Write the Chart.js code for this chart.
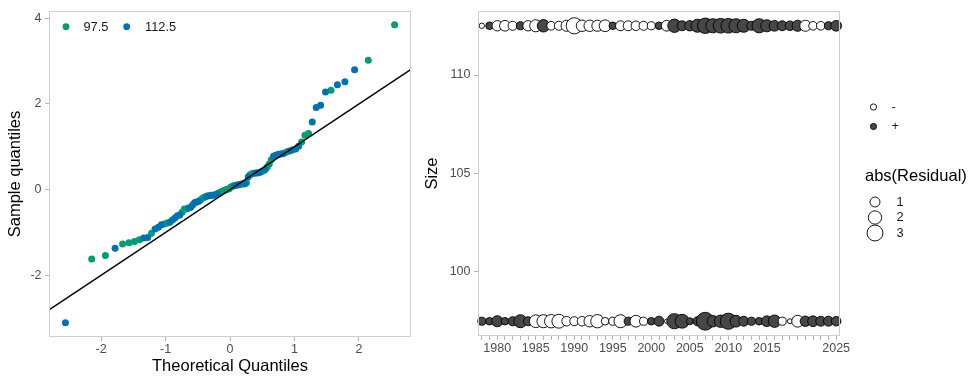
<!DOCTYPE html>
<html><head><meta charset="utf-8">
<script src="https://cdn.jsdelivr.net/npm/chart.js@4.4.1/dist/chart.umd.min.js"></script>
<style>
html,body{margin:0;padding:0;background:#fff;}
#wrap{position:relative;width:970px;height:379px;overflow:hidden;background:#fff;}
#qq{position:absolute;left:0;top:0;}
#bub{position:absolute;left:415px;top:0;}
</style></head><body>
<div id="wrap"><canvas id="qq" width="425" height="379"></canvas><canvas id="bub" width="555" height="379"></canvas></div>
<script>
// ---------- Data: QQ plot (sorted sample quantiles) ----------
const qqTheoretical = [-2.553,-2.145,-1.933,-1.783,-1.666,-1.567,-1.482,-1.406,-1.338,-1.276,-1.218,-1.163,-1.111,-1.064,-1.018,-0.974,-0.933,-0.893,-0.854,-0.816,-0.779,-0.743,-0.708,-0.675,-0.641,-0.609,-0.577,-0.546,-0.516,-0.485,-0.456,-0.426,-0.397,-0.369,-0.340,-0.312,-0.284,-0.256,-0.229,-0.201,-0.174,-0.147,-0.120,-0.093,-0.067,-0.040,-0.013,
  0.013,0.040,0.067,0.093,0.120,0.147,0.174,0.201,0.229,0.256,0.284,0.312,0.340,0.369,0.397,0.426,0.456,0.485,0.516,0.546,0.577,0.609,0.641,0.675,0.708,0.743,0.779,0.816,0.854,0.893,0.933,0.974,1.018,1.064,1.111,1.163,1.218,1.276,1.338,1.406,1.482,1.567,1.666,1.783,1.933,2.145,2.553];
const qqSample = [-3.11,-1.62,-1.54,-1.37,-1.27,-1.24,-1.21,-1.17,-1.13,-1.12,-1.02,-0.92,-0.88,-0.82,-0.80,-0.78,-0.76,-0.71,-0.66,-0.61,-0.59,-0.53,-0.45,-0.45,-0.43,-0.41,-0.35,-0.30,-0.29,-0.27,-0.24,-0.20,-0.18,-0.16,-0.14,-0.14,-0.13,-0.13,-0.12,-0.10,-0.08,-0.06,-0.04,-0.02,0.00,0.01,0.02,
  0.06,0.08,0.09,0.10,0.11,0.12,0.13,0.13,0.14,0.16,0.30,0.35,0.37,0.38,0.39,0.39,0.40,0.42,0.44,0.47,0.53,0.60,0.70,0.78,0.80,0.82,0.83,0.84,0.86,0.89,0.91,0.93,0.95,1.01,1.11,1.27,1.31,1.58,1.92,1.97,2.28,2.32,2.45,2.52,2.80,3.02,3.85];
const qqGroup = ['112.5','97.5','97.5','112.5','97.5','97.5','97.5','97.5','112.5','112.5','97.5','112.5','112.5','112.5','97.5','97.5','112.5','112.5','112.5','112.5','112.5','97.5','97.5','97.5','112.5','112.5','112.5','112.5','112.5','112.5','97.5','97.5','97.5','112.5','112.5','97.5','97.5','112.5','112.5','112.5','97.5','97.5','97.5','97.5','97.5','97.5','97.5',
  '97.5','97.5','112.5','112.5','112.5','97.5','97.5','97.5','112.5','97.5','112.5','97.5','97.5','97.5','112.5','112.5','112.5','97.5','97.5','112.5','97.5','97.5','97.5','112.5','112.5','112.5','112.5','112.5','97.5','97.5','112.5','97.5','112.5','112.5','97.5','97.5','97.5','112.5','112.5','112.5','112.5','97.5','112.5','112.5','112.5','97.5','97.5'];
const groupNames = ['97.5','112.5'];
const qqLineX = [-3, 3];      // reference line: intercept 0, slope 1
const qqLineY = [-3, 3];
const qqXTicks = [-2,-1,0,1,2];
const qqYTicks = [-2,0,2,4];

// ---------- Data: residuals by year and size ----------
const years = [1978,1979,1980,1981,1982,1983,1984,1985,1986,1987,1988,1989,1990,1991,1992,1993,1994,1995,1996,1997,1998,1999,2000,2001,2002,2003,2004,2005,2006,2007,2008,2009,2010,2011,2012,2013,2014,2015,2016,2017,2018,2019,2021,2022,2023,2024,2025];
const sizeLevels = [97.5, 112.5];
const residual97 = [0.6,0.5,1.3,0.5,0.8,1.9,0.8,-1.8,-1.9,-2.0,-2.2,-0.9,-0.8,-0.9,-1.4,-2.0,-0.5,-0.6,-1.9,0.6,-1.5,-0.6,0.5,1.0,-0.1,2.7,2.2,0.4,0.8,3.85,1.4,1.7,3.1,1.5,1.0,0.6,0.5,1.2,1.7,-0.6,-0.15,-1.5,1.1,1.2,1.0,1.0,0.9];
const residual112 = [-0.2,0.5,-1.1,-1.2,-0.8,0.6,-1.1,-1.6,1.7,-0.7,-0.8,-1.3,-3.1,-1.4,-1.4,-1.3,-1.5,0.5,-1.0,-1.0,-0.9,-0.8,-0.6,0.5,-1.2,2.0,1.0,1.1,1.9,2.8,2.3,2.5,2.5,2.3,1.9,0.8,2.3,1.6,1.2,1.0,0.9,1.3,-1.3,-0.7,-0.7,0.6,1.2];
const sizeTicks = [100,105,110];
const sizeLegendValues = [1,2,3];
const signLegendLabels = ['-','+'];

// ---------- Styling ----------
const FONT = "'Liberation Sans', Arial, Helvetica, sans-serif";
const tickFont = {family: FONT, size: 12.5};
const titleFont = {family: FONT, size: 16.5};
const legendFont = "12.8px " + FONT;
const GREEN = '#009E73', BLUE = '#0072B2';
const DARK = '#474747';
const AXIS_GREY = '#b3b3b3', BORDER_GREY = '#cfcfcf', TEXT_GREY = '#4d4d4d';
const maxAbs = 3.85;
const radiusOf = v => 0.9 + 8 * Math.sqrt(Math.abs(v) / maxAbs);

Chart.defaults.font.family = FONT;
Chart.defaults.color = TEXT_GREY;

const panelBorder = {
  id: 'panelBorder',
  afterDraw(chart) {
    const {ctx, chartArea: a} = chart;
    ctx.save();
    ctx.strokeStyle = BORDER_GREY;
    ctx.lineWidth = 1;
    ctx.strokeRect(a.left + 0.5, a.top + 0.5, a.right - a.left - 1, a.bottom - a.top - 1);
    ctx.restore();
  }
};

function axisCommon() {
  return {
    grid: {display: true, drawOnChartArea: false, drawTicks: true, tickLength: 4, tickColor: AXIS_GREY, tickWidth: 1},
    border: {display: false}
  };
}

// ---------- QQ chart ----------
const qqLegend = {
  id: 'qqLegend',
  afterDraw(chart) {
    const ctx = chart.ctx;
    ctx.save();
    ctx.font = legendFont;
    ctx.textBaseline = 'middle';
    const items = [{c: GREEN, t: groupNames[0], dx: 66, tx: 83.5}, {c: BLUE, t: groupNames[1], dx: 126.7, tx: 145}];
    items.forEach(it => {
      ctx.beginPath(); ctx.arc(it.dx, 26.7, 3.4, 0, Math.PI * 2); ctx.fillStyle = it.c; ctx.fill();
      ctx.fillStyle = '#1a1a1a'; ctx.textAlign = 'left'; ctx.fillText(it.t, it.tx, 27);
    });
    ctx.restore();
  }
};

function groupPoints(g) {
  const pts = [];
  qqSample.forEach((y, i) => { if (qqGroup[i] === g) pts.push({x: qqTheoretical[i], y}); });
  return pts;
}

new Chart(document.getElementById('qq'), {
  type: 'scatter',
  data: {
    datasets: [
      {type: 'line', label: 'line', data: qqLineX.map((x, i) => ({x, y: qqLineY[i]})), borderColor: '#000', borderWidth: 1.4, pointRadius: 0, showLine: true, fill: false},
      {label: groupNames[1], data: groupPoints(groupNames[1]), backgroundColor: BLUE, pointRadius: 3.5, borderWidth: 0, pointBorderWidth: 0},
      {label: groupNames[0], data: groupPoints(groupNames[0]), backgroundColor: GREEN, pointRadius: 3.5, borderWidth: 0, pointBorderWidth: 0}
    ]
  },
  options: {
    responsive: false, animation: false, devicePixelRatio: 1,
    events: [],
    layout: {padding: {top: 10, right: 14, left: 0, bottom: 0}},
    plugins: {legend: {display: false}, tooltip: {enabled: false}},
    scales: {
      x: Object.assign(axisCommon(), {
        type: 'linear', min: -2.808, max: 2.808,
        afterBuildTicks: s => { s.ticks = qqXTicks.map(v => ({value: v})); },
        afterFit: s => { s.height = 42; },
        ticks: {font: tickFont, color: TEXT_GREY, padding: 1.5, maxRotation: 0},
        title: {display: true, text: 'Theoretical Quantiles', font: titleFont, color: '#000', padding: {top: 0, bottom: 3}}
      }),
      y: Object.assign(axisCommon(), {
        type: 'linear', min: -3.44, max: 4.17,
        afterBuildTicks: s => { s.ticks = qqYTicks.map(v => ({value: v})); },
        afterFit: s => { s.width = 49; },
        ticks: {font: tickFont, color: TEXT_GREY, padding: 3.5},
        title: {display: true, text: 'Sample quantiles', font: titleFont, color: '#000', padding: {top: 6, bottom: 0}}
      })
    }
  },
  plugins: [panelBorder, qqLegend]
});

// ---------- Residual bubble chart ----------
const bubLegend = {
  id: 'bubLegend',
  afterDraw(chart) {
    const ctx = chart.ctx;
    const ox = 415; // canvas offset on the page
    ctx.save();
    ctx.lineWidth = 0.9;
    ctx.strokeStyle = '#000';
    ctx.textBaseline = 'middle';
    ctx.textAlign = 'left';
    const signY = [107, 126.5];
    signLegendLabels.forEach((lab, i) => {
      ctx.beginPath(); ctx.arc(873.5 - ox, signY[i], 3.1, 0, Math.PI * 2);
      ctx.fillStyle = i === 0 ? '#fff' : DARK; ctx.fill(); ctx.stroke();
      ctx.fillStyle = '#1a1a1a'; ctx.font = legendFont; ctx.fillText(lab, 891.5 - ox, signY[i]);
    });
    ctx.fillStyle = '#000';
    ctx.font = "16.5px " + FONT;
    ctx.fillText('abs(Residual)', 865 - ox, 176.5);
    const sizeY = [202, 217.5, 233];
    sizeLegendValues.forEach((v, i) => {
      ctx.beginPath(); ctx.arc(875 - ox, sizeY[i], radiusOf(v), 0, Math.PI * 2);
      ctx.fillStyle = '#fff'; ctx.fill(); ctx.stroke();
      ctx.fillStyle = '#1a1a1a'; ctx.font = legendFont; ctx.fillText(String(v), 896.5 - ox, sizeY[i]);
    });
    ctx.restore();
  }
};

function rowData(res, level) {
  return years.map((yr, i) => ({x: String(yr), y: level, r: radiusOf(res[i])}));
}

new Chart(document.getElementById('bub'), {
  type: 'bubble',
  data: {
    labels: years.map(String),
    datasets: [
      {label: String(sizeLevels[0]), data: rowData(residual97, sizeLevels[0]), backgroundColor: residual97.map(v => v >= 0 ? DARK : '#fff'), borderColor: '#000', borderWidth: 0.9},
      {label: String(sizeLevels[1]), data: rowData(residual112, sizeLevels[1]), backgroundColor: residual112.map(v => v >= 0 ? DARK : '#fff'), borderColor: '#000', borderWidth: 0.9}
    ]
  },
  options: {
    responsive: false, animation: false, devicePixelRatio: 1,
    events: [],
    layout: {padding: {top: 10, right: 130, left: 0, bottom: 0}},
    plugins: {legend: {display: false}, tooltip: {enabled: false}},
    scales: {
      x: Object.assign(axisCommon(), {
        type: 'category', offset: true,
        afterFit: s => { s.height = 43; },
        ticks: {font: tickFont, color: TEXT_GREY, padding: 1.5, autoSkip: false, maxRotation: 0, minRotation: 0,
          callback: (v, i) => (years[i] % 5 === 0 ? String(years[i]) : '')}
      }),
      y: Object.assign(axisCommon(), {
        type: 'linear', min: 96.75, max: 113.25,
        afterBuildTicks: s => { s.ticks = sizeTicks.map(v => ({value: v})); },
        afterFit: s => { s.width = 63; },
        ticks: {font: tickFont, color: TEXT_GREY, padding: 3.5},
        title: {display: true, text: 'Size', font: titleFont, color: '#000', padding: {top: 8, bottom: 0}}
      })
    }
  },
  plugins: [panelBorder, bubLegend]
});
</script>
</body></html>
